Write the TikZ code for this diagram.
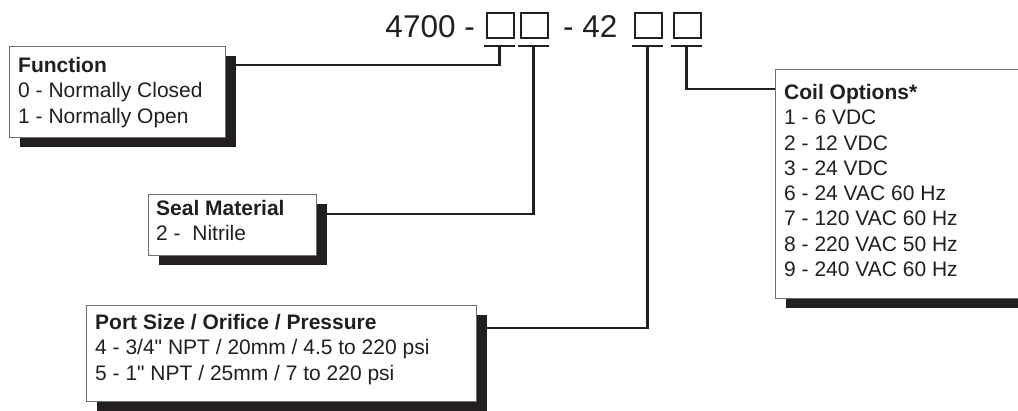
\documentclass[tikz,border=0pt]{standalone}
\usepackage{fontspec}
\setmainfont{Liberation Sans}[Ligatures=TeXOff]
\usetikzlibrary{shadows,calc}
\definecolor{ink}{HTML}{231F20}
\definecolor{frame}{HTML}{6D6E71}
\begin{document}
\begin{tikzpicture}[x=1pt,y=-1pt,
  panel/.style={draw=frame, line width=1.2pt, fill=white, inner sep=0pt, anchor=north west,
    drop shadow={shadow xshift=10pt, shadow yshift=-9pt, fill=ink, opacity=1}},
  paneltext/.style={inner sep=0pt, anchor=north west, align=left, text=ink,
    font=\fontsize{21}{25.3}\selectfont},
  digit/.style={draw=ink, line width=2pt, minimum width=27pt, minimum height=25pt,
    inner sep=0pt, anchor=north west},
  code/.style={inner sep=0pt, text=ink, font=\fontsize{31.5}{33}\selectfont},
  conn/.style={draw=ink, line width=2.6pt},
]
\useasboundingbox (0,0) rectangle (1018,410);
\clip (0,0) rectangle (1018,410);
\fill[white] (0,0) rectangle (1018,410);

% part number
\node[code, anchor=base east] (pre) at (475,37) {4700 -};
\node[code, anchor=base west] (mid) at (563,37) {- 42};
\node[digit] (s1) at (486,12) {};
\node[digit] (s2) at (520,12) {};
\node[digit] (s3) at (634,12) {};
\node[digit] (s4) at (673,12) {};

% tee bars
\foreach \s/\t in {s1/t1, s2/t2, s3/t3, s4/t4}{
  \draw[conn] ($(\s.south west)+(-2,7)$) -- ($(\s.south east)+(0,7)$);
  \coordinate (\t) at ($(\s.south)+(-1,7)$);
}

% panels
\node[panel, minimum width=216pt, minimum height=91pt] (fbox) at (9,46) {};
\node[paneltext] (ftext) at (18,57) {\textbf{Function}\\0 - Normally Closed\\1 - Normally Open};

\node[panel, minimum width=168pt, minimum height=61pt] (sbox) at (148,194) {};
\node[paneltext] (stext) at (156,200) {\textbf{Seal Material}\\2 -\ \ Nitrile};

\node[panel, minimum width=390pt, minimum height=96pt] (pbox) at (86,305) {};
\node[paneltext] (ptext) at (95,314) {\textbf{Port Size / Orifice / Pressure}\\4 - 3/4\char34{} NPT / 20mm / 4.5 to 220 psi\\5 - 1\char34{} NPT / 25mm / 7 to 220 psi};

\node[panel, minimum width=260pt, minimum height=229pt] (cbox) at (775,69) {};
\node[paneltext] (ctext) at (784,84) {\textbf{Coil Options*}\\1 - 6 VDC\\2 - 12 VDC\\3 - 24 VDC\\6 - 24 VAC 60 Hz\\7 - 120 VAC 60 Hz\\8 - 220 VAC 50 Hz\\9 - 240 VAC 60 Hz};

% connectors
\draw[conn] (t1) |- ($(fbox.north east)+(10,19)$);
\draw[conn] (t2) |- ($(sbox.north east)+(10,20)$);
\draw[conn] (t3) |- ($(pbox.north east)+(10,23)$);
\draw[conn] (t4) |- ($(cbox.north west)+(0,20)$);
\end{tikzpicture}
\end{document}
